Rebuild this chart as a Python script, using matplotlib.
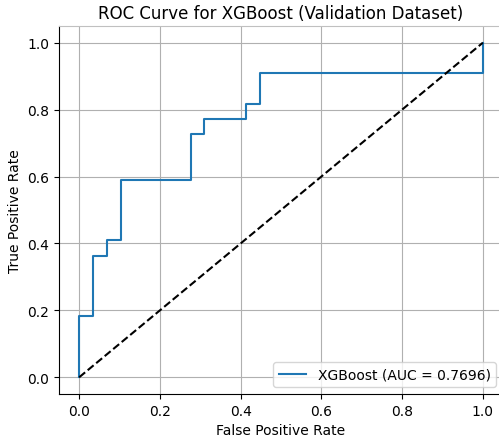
import numpy as np
import matplotlib
matplotlib.use("Agg")
import matplotlib.pyplot as plt

# ROC points (29 negatives, 22 positives)
fpr = [0.0, 0.0, 0.0345, 0.0345, 0.0690, 0.0690, 0.1034, 0.1034,
       0.2759, 0.2759, 0.3103, 0.3103, 0.4138, 0.4138, 0.4483, 0.4483, 1.0, 1.0]
tpr = [0.0, 0.1818, 0.1818, 0.3636, 0.3636, 0.4091, 0.4091, 0.5909,
       0.5909, 0.7273, 0.7273, 0.7727, 0.7727, 0.8182, 0.8182, 0.9091, 0.9091, 1.0]
auc_value = 0.7696
chance = [0, 1]

fig = plt.figure(figsize=(4.99, 4.39), dpi=100)
ax = fig.add_axes([59 / 499, 44 / 439, 444 / 499, 368 / 439])

ax.plot(fpr, tpr, color='#1f77b4', label=f'XGBoost (AUC = {auc_value:.4f})')
ax.plot(chance, chance, 'k--')
ax.set_title('ROC Curve for XGBoost (Validation Dataset)')
ax.set_xlabel('False Positive Rate')
ax.set_ylabel('True Positive Rate')
ax.legend(loc='lower right')
ax.grid(True)

# top border looks faded in the reference
ax.spines['top'].set_color('#c0c0c0')
ax.spines['right'].set_color('#c0c0c0')

fig.savefig('out.png', dpi=100)
